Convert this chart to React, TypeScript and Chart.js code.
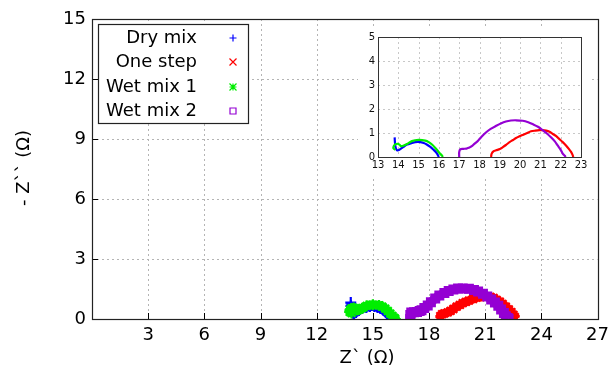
import React, { useEffect, useRef } from "react";
import { Chart, registerables } from "chart.js";
Chart.register(...registerables);

const seriesNames = ["Dry mix", "One step", "Wet mix 1", "Wet mix 2"];
const seriesColors = ["#0000ff", "#ff0000", "#00ee00", "#9400d3"];
const seriesStyles = ["cross", "crossRot", "star", "rect"];

const dryMixX = [13.82, 13.83, 13.85, 13.88, 13.93, 14.0, 14.1, 14.25, 14.43, 14.65, 14.84, 15.08, 15.25, 15.4, 15.58, 15.74, 15.86, 15.93, 16.0];
const dryMixY = [0.82, 0.66, 0.48, 0.36, 0.29, 0.28, 0.33, 0.42, 0.52, 0.58, 0.62, 0.62, 0.58, 0.52, 0.42, 0.3, 0.2, 0.11, 0.0];

const oneStepX = [18.57, 18.6, 18.7, 18.82, 19.0, 19.15, 19.3, 19.48, 19.65, 19.8, 19.97, 20.13, 20.35, 20.54, 20.75, 20.95, 21.1, 21.28, 21.45, 21.61, 21.78, 21.93, 22.1, 22.26, 22.4, 22.51, 22.58, 22.62];
const oneStepY = [0.0, 0.14, 0.24, 0.28, 0.33, 0.41, 0.5, 0.62, 0.71, 0.79, 0.86, 0.92, 1.0, 1.07, 1.1, 1.12, 1.12, 1.1, 1.05, 0.96, 0.87, 0.75, 0.62, 0.48, 0.34, 0.21, 0.1, 0.0];

const wetMix1X = [13.86, 13.76, 13.78, 13.86, 13.98, 14.08, 14.12, 14.2, 14.3, 14.43, 14.67, 15.0, 15.33, 15.5, 15.66, 15.8, 15.93, 16.05, 16.15, 16.2];
const wetMix1Y = [0.3, 0.36, 0.46, 0.53, 0.55, 0.5, 0.45, 0.46, 0.49, 0.54, 0.66, 0.71, 0.68, 0.62, 0.52, 0.4, 0.27, 0.15, 0.06, 0.0];

const wetMix2X = [17.0, 17.0, 17.05, 17.2, 17.36, 17.5, 17.6, 17.75, 17.93, 18.1, 18.33, 18.55, 18.82, 19.05, 19.3, 19.55, 19.8, 20.13, 20.4, 20.62, 20.88, 21.11, 21.32, 21.52, 21.7, 21.85, 22.0, 22.1, 22.2, 22.25];
const wetMix2Y = [0.0, 0.2, 0.32, 0.34, 0.35, 0.4, 0.44, 0.55, 0.68, 0.84, 1.03, 1.17, 1.3, 1.4, 1.48, 1.52, 1.53, 1.51, 1.45, 1.37, 1.26, 1.12, 0.98, 0.82, 0.66, 0.48, 0.3, 0.14, 0.05, 0.0];

const seriesX = [dryMixX, oneStepX, wetMix1X, wetMix2X];
const seriesY = [dryMixY, oneStepY, wetMix1Y, wetMix2Y];

const xTicks = [0, 3, 6, 9, 12, 15, 18, 21, 24, 27];
const yTicks = [0, 3, 6, 9, 12, 15];
const insetXTicks = [13, 14, 15, 16, 17, 18, 19, 20, 21, 22, 23];
const insetYTicks = [0, 1, 2, 3, 4, 5];

const xTitle = "Z` (Ω)";
const yTitle = "- Z`` (Ω)";
const FONT = "'DejaVu Sans', Verdana, sans-serif";

function toPoints(i: number) {
  return seriesX[i].map((x, k) => ({ x, y: seriesY[i][k] }));
}

function drawMarker(ctx: CanvasRenderingContext2D, style: string, x: number, y: number, r: number, color: string) {
  ctx.save();
  ctx.strokeStyle = color;
  ctx.lineWidth = 1.2;
  ctx.beginPath();
  if (style === "cross") {
    ctx.moveTo(x - r, y); ctx.lineTo(x + r, y);
    ctx.moveTo(x, y - r); ctx.lineTo(x, y + r);
  } else if (style === "crossRot") {
    ctx.moveTo(x - r, y - r); ctx.lineTo(x + r, y + r);
    ctx.moveTo(x - r, y + r); ctx.lineTo(x + r, y - r);
  } else if (style === "star") {
    ctx.moveTo(x - r, y); ctx.lineTo(x + r, y);
    ctx.moveTo(x, y - r); ctx.lineTo(x, y + r);
    ctx.moveTo(x - r, y - r); ctx.lineTo(x + r, y + r);
    ctx.moveTo(x - r, y + r); ctx.lineTo(x + r, y - r);
  } else {
    ctx.rect(x - r + 0.5, y - r + 0.5, 2 * r - 1, 2 * r - 1);
  }
  ctx.stroke();
  ctx.restore();
}

function drawGrid(chart: any, xs: number[], ys: number[], color: string) {
  const { ctx, chartArea: a, scales } = chart;
  ctx.save();
  ctx.strokeStyle = color;
  ctx.lineWidth = 1;
  ctx.setLineDash([2, 3]);
  ctx.beginPath();
  xs.forEach((v) => {
    const px = Math.round(scales.x.getPixelForValue(v)) + 0.5;
    ctx.moveTo(px, a.top); ctx.lineTo(px, a.bottom);
  });
  ys.forEach((v) => {
    const py = Math.round(scales.y.getPixelForValue(v)) + 0.5;
    ctx.moveTo(a.left, py); ctx.lineTo(a.right, py);
  });
  ctx.stroke();
  ctx.restore();
}

const mainPlugin = {
  id: "mainDecor",
  beforeDraw(chart: any) {
    const { ctx, width, height } = chart;
    ctx.save();
    ctx.fillStyle = "#ffffff";
    ctx.fillRect(0, 0, width, height);
    ctx.restore();
  },
  beforeDatasetsDraw(chart: any) {
    drawGrid(chart, xTicks, yTicks, "#b4b4b4");
  },
  afterDraw(chart: any) {
    const { ctx, chartArea: a, scales } = chart;
    ctx.save();
    ctx.strokeStyle = "#000";
    ctx.lineWidth = 1;
    ctx.beginPath();
    xTicks.forEach((v) => {
      const px = Math.round(scales.x.getPixelForValue(v)) + 0.5;
      ctx.moveTo(px, a.bottom); ctx.lineTo(px, a.bottom - 6);
    });
    yTicks.forEach((v) => {
      const py = Math.round(scales.y.getPixelForValue(v)) + 0.5;
      ctx.moveTo(a.left, py); ctx.lineTo(a.left + 6, py);
    });
    ctx.stroke();
    ctx.strokeStyle = "#222";
    ctx.lineWidth = 1.2;
    ctx.strokeRect(Math.round(a.left) + 0.5, Math.round(a.top) + 0.5, Math.round(a.right - a.left), Math.round(a.bottom - a.top));
    const lx = 98, ly = 24, lw = 150, lh = 99;
    ctx.fillStyle = "#fff";
    ctx.fillRect(lx, ly, lw, lh);
    ctx.strokeStyle = "#222";
    ctx.lineWidth = 1.2;
    ctx.strokeRect(lx + 0.5, ly + 0.5, lw, lh);
    ctx.font = `18px ${FONT}`;
    ctx.fillStyle = "#000";
    ctx.textAlign = "right";
    ctx.textBaseline = "middle";
    const rowsY = [38, 62, 87, 111];
    seriesNames.forEach((name, i) => {
      ctx.fillText(name, 197, rowsY[i]);
      drawMarker(ctx, seriesStyles[i], 233, rowsY[i], 3.5, seriesColors[i]);
    });
    ctx.textAlign = "center";
    ctx.fillText(xTitle, 367, 358);
    ctx.translate(24, 168);
    ctx.rotate(-Math.PI / 2);
    ctx.fillText(yTitle, 0, 0);
    ctx.restore();
  },
};

const insetPlugin = {
  id: "insetDecor",
  beforeDraw(chart: any) {
    const { ctx, width, height } = chart;
    ctx.save();
    ctx.fillStyle = "#ffffff";
    ctx.fillRect(0, 0, width, height);
    ctx.restore();
  },
  beforeDatasetsDraw(chart: any) {
    drawGrid(chart, insetXTicks, insetYTicks, "#c8c8c8");
  },
  afterDraw(chart: any) {
    const { ctx, chartArea: a } = chart;
    ctx.save();
    ctx.strokeStyle = "#333";
    ctx.lineWidth = 1;
    ctx.strokeRect(Math.round(a.left) + 0.5, Math.round(a.top) + 0.5, Math.round(a.right - a.left), Math.round(a.bottom - a.top));
    ctx.restore();
  },
};

export default function App() {
  const mainRef = useRef<HTMLCanvasElement>(null);
  const insetRef = useRef<HTMLCanvasElement>(null);

  useEffect(() => {
    const order = [4, 3, 2, 1];
    const main = new Chart(mainRef.current!, {
      type: "scatter",
      data: {
        datasets: seriesNames.map((name, i) => ({
          label: name,
          data: toPoints(i),
          showLine: true,
          borderColor: seriesColors[i],
          backgroundColor: "rgba(0,0,0,0)",
          borderWidth: 9,
          pointStyle: seriesStyles[i] as any,
          pointRadius: 5.5,
          pointBorderWidth: 2.2,
          pointBorderColor: seriesColors[i],
          pointBackgroundColor: "rgba(0,0,0,0)",
          tension: 0.3,
          order: order[i],
        })),
      },
      options: {
        animation: false,
        responsive: false,
        devicePixelRatio: 1,
        layout: { padding: { top: 19, right: 15, left: 0, bottom: 0 } },
        plugins: { legend: { display: false }, tooltip: { enabled: false } },
        events: [],
        scales: {
          x: {
            type: "linear",
            min: 0,
            max: 27,
            afterBuildTicks: (s: any) => { s.ticks = xTicks.map((v) => ({ value: v })); },
            afterFit: (s: any) => { s.height = 53; },
            grid: { display: false, drawTicks: false },
            border: { display: false },
            ticks: {
              font: { family: FONT, size: 18 },
              color: "#000",
              padding: 6,
              maxRotation: 0,
              callback: (v: any) => (v === 0 ? "" : String(v)),
            },
          },
          y: {
            type: "linear",
            min: 0,
            max: 15,
            afterBuildTicks: (s: any) => { s.ticks = yTicks.map((v) => ({ value: v })); },
            afterFit: (s: any) => { s.width = 92; },
            grid: { display: false, drawTicks: false },
            border: { display: false },
            ticks: {
              font: { family: FONT, size: 18 },
              color: "#000",
              padding: 6,
              callback: (v: any) => String(v),
            },
          },
        },
      },
      plugins: [mainPlugin],
    });

    const inset = new Chart(insetRef.current!, {
      type: "scatter",
      data: {
        datasets: seriesNames.map((name, i) => ({
          label: name,
          data: toPoints(i),
          showLine: true,
          borderColor: seriesColors[i],
          backgroundColor: seriesColors[i],
          borderWidth: 2.2,
          pointRadius: 0,
          tension: 0.3,
          order: order[i],
        })),
      },
      options: {
        animation: false,
        responsive: false,
        devicePixelRatio: 1,
        layout: { padding: { top: 7, right: 9, left: 0, bottom: 0 } },
        plugins: { legend: { display: false }, tooltip: { enabled: false } },
        events: [],
        scales: {
          x: {
            type: "linear",
            min: 13,
            max: 23,
            afterBuildTicks: (s: any) => { s.ticks = insetXTicks.map((v) => ({ value: v })); },
            afterFit: (s: any) => { s.height = 21; },
            grid: { display: false, drawTicks: false },
            border: { display: false },
            ticks: { font: { family: FONT, size: 10 }, color: "#111", padding: 2, maxRotation: 0, callback: (v: any) => String(v) },
          },
          y: {
            type: "linear",
            min: 0,
            max: 5,
            afterBuildTicks: (s: any) => { s.ticks = insetYTicks.map((v) => ({ value: v })); },
            afterFit: (s: any) => { s.width = 20; },
            grid: { display: false, drawTicks: false },
            border: { display: false },
            ticks: { font: { family: FONT, size: 10 }, color: "#111", padding: 3, callback: (v: any) => String(v) },
          },
        },
      },
      plugins: [insetPlugin],
    });

    return () => {
      main.destroy();
      inset.destroy();
    };
  }, []);

  return (
    <div style={{ position: "fixed", left: 0, top: 0, width: 615, height: 372, background: "#fff" }}>
      <canvas ref={mainRef} width={615} height={372} style={{ position: "absolute", left: 0, top: 0, width: 615, height: 372 }} />
      <canvas ref={insetRef} width={232} height={150} style={{ position: "absolute", left: 358, top: 28, width: 232, height: 150 }} />
    </div>
  );
}
